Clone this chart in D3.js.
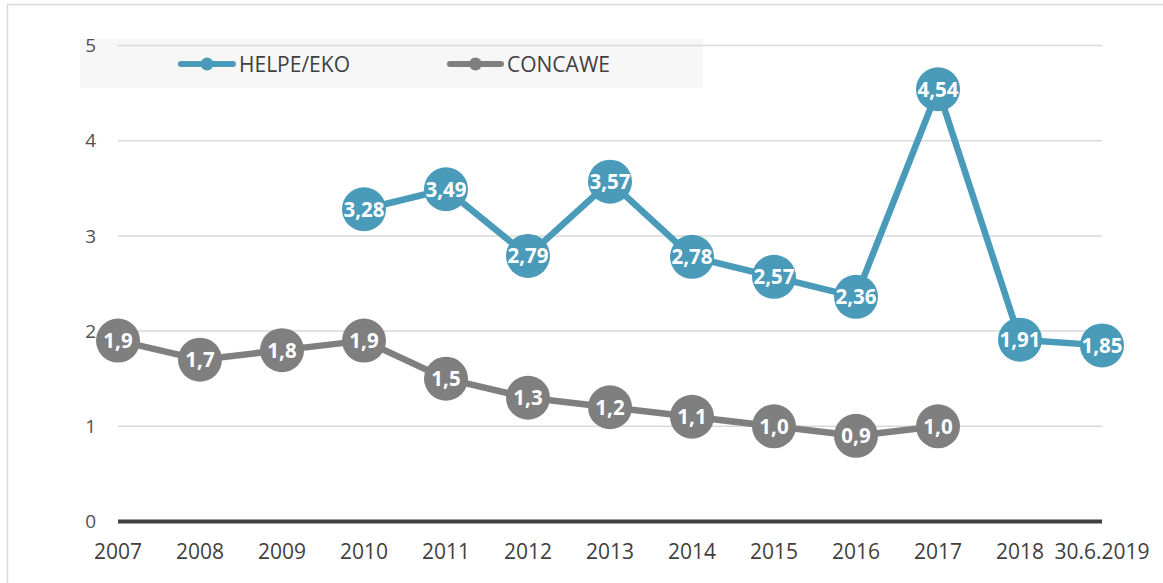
<!DOCTYPE html>
<html>
<head>
<meta charset="utf-8">
<script src="https://cdn.jsdelivr.net/npm/d3@7.9.0/dist/d3.min.js"></script>
<style>
  body { margin: 0; background: #fff; }
  svg { display: block; font-family: "Open Sans", sans-serif; }
</style>
</head>
<body>
<svg width="1163" height="583"></svg>
<script>
const years = ["2007", "2008", "2009", "2010", "2011", "2012", "2013", "2014", "2015", "2016", "2017", "2018", "30.6.2019"];
const helpe = [null, null, null, 3.28, 3.49, 2.79, 3.57, 2.78, 2.57, 2.36, 4.54, 1.91, 1.85];
const concawe = [1.9, 1.7, 1.8, 1.9, 1.5, 1.3, 1.2, 1.1, 1.0, 0.9, 1.0, null, null];
const yTicks = [0, 1, 2, 3, 4, 5];

const series = [
    { name: "HELPE/EKO", values: helpe, color: "#4a9aba", fmt: d3.format(".2f") },
    { name: "CONCAWE", values: concawe, color: "#7f7f7f", fmt: d3.format(".1f") }
];

const svg = d3.select("svg");

// chart border
svg.append("rect")
    .attr("x", 7.5).attr("y", 4.5)
    .attr("width", 1200).attr("height", 600)
    .attr("fill", "none").attr("stroke", "#d9d9d9").attr("stroke-width", 1.5);

const x = d3.scalePoint().domain(years).range([118, 1102]).padding(0);
const y = d3.scaleLinear().domain([0, 5]).range([521.5, 45.5]);

// legend background (sits under the gridlines)
svg.append("rect")
    .attr("x", 80).attr("y", 39)
    .attr("width", 623).attr("height", 49)
    .attr("fill", "#f7f7f7");

// gridlines
svg.append("g").selectAll("line")
    .data(yTicks.filter(d => d > 0))
    .enter().append("line")
    .attr("x1", 118).attr("x2", 1102)
    .attr("y1", d => y(d)).attr("y2", d => y(d))
    .attr("stroke", "#d9d9d9").attr("stroke-width", 1.5);

// y labels
svg.append("g").selectAll("text")
    .data(yTicks)
    .enter().append("text")
    .attr("x", 96)
    .attr("y", d => y(d))
    .attr("dy", "0.35em")
    .attr("text-anchor", "end")
    .style("font-size", "19px")
    .attr("fill", "#505050")
    .text(d => d);

// x axis line
svg.append("line")
    .attr("x1", 118).attr("x2", 1102)
    .attr("y1", y(0)).attr("y2", y(0))
    .attr("stroke", "#404040").attr("stroke-width", 4);

// x labels
svg.append("g").selectAll("text")
    .data(years)
    .enter().append("text")
    .attr("x", d => x(d))
    .attr("y", 559)
    .attr("text-anchor", "middle")
    .style("font-size", "21px")
    .attr("fill", "#404040")
    .text(d => d);

// lines + labelled markers
series.forEach(s => {
    const pts = years.map((yr, i) => ({ yr: yr, v: s.values[i] })).filter(d => d.v !== null);
    const line = d3.line().x(d => x(d.yr)).y(d => y(d.v));
    svg.append("path").datum(pts)
        .attr("fill", "none")
        .attr("stroke", s.color)
        .attr("stroke-width", 6.5)
        .attr("stroke-linejoin", "round")
        .attr("d", line);

    const g = svg.append("g").selectAll("g")
        .data(pts).enter().append("g")
        .attr("transform", d => `translate(${x(d.yr)},${y(d.v)})`);
    g.append("circle").attr("r", 22).attr("fill", s.color);
    g.append("text")
        .attr("text-anchor", "middle")
        .attr("dy", "0.36em")
        .style("font-size", "20.5px")
        .style("font-weight", "bold")
        .attr("fill", "#fff")
        .text(d => s.fmt(d.v).replace(".", ","));
});

// legend
const legendPos = [{ x1: 178, x2: 236 }, { x1: 447, x2: 504 }];
series.forEach((s, i) => {
    const p = legendPos[i];
    const lg = svg.append("g");
    lg.append("line")
        .attr("x1", p.x1 + 3).attr("x2", p.x2 - 3)
        .attr("y1", 64).attr("y2", 64)
        .attr("stroke", s.color).attr("stroke-width", 6)
        .attr("stroke-linecap", "round");
    lg.append("circle")
        .attr("cx", (p.x1 + p.x2) / 2).attr("cy", 64)
        .attr("r", 6.5).attr("fill", s.color);
    lg.append("text")
        .attr("x", p.x2 + 3).attr("y", 64)
        .attr("dy", "0.36em")
        .style("font-size", "21px")
        .attr("fill", "#404040")
        .text(s.name);
});
</script>
</body>
</html>
